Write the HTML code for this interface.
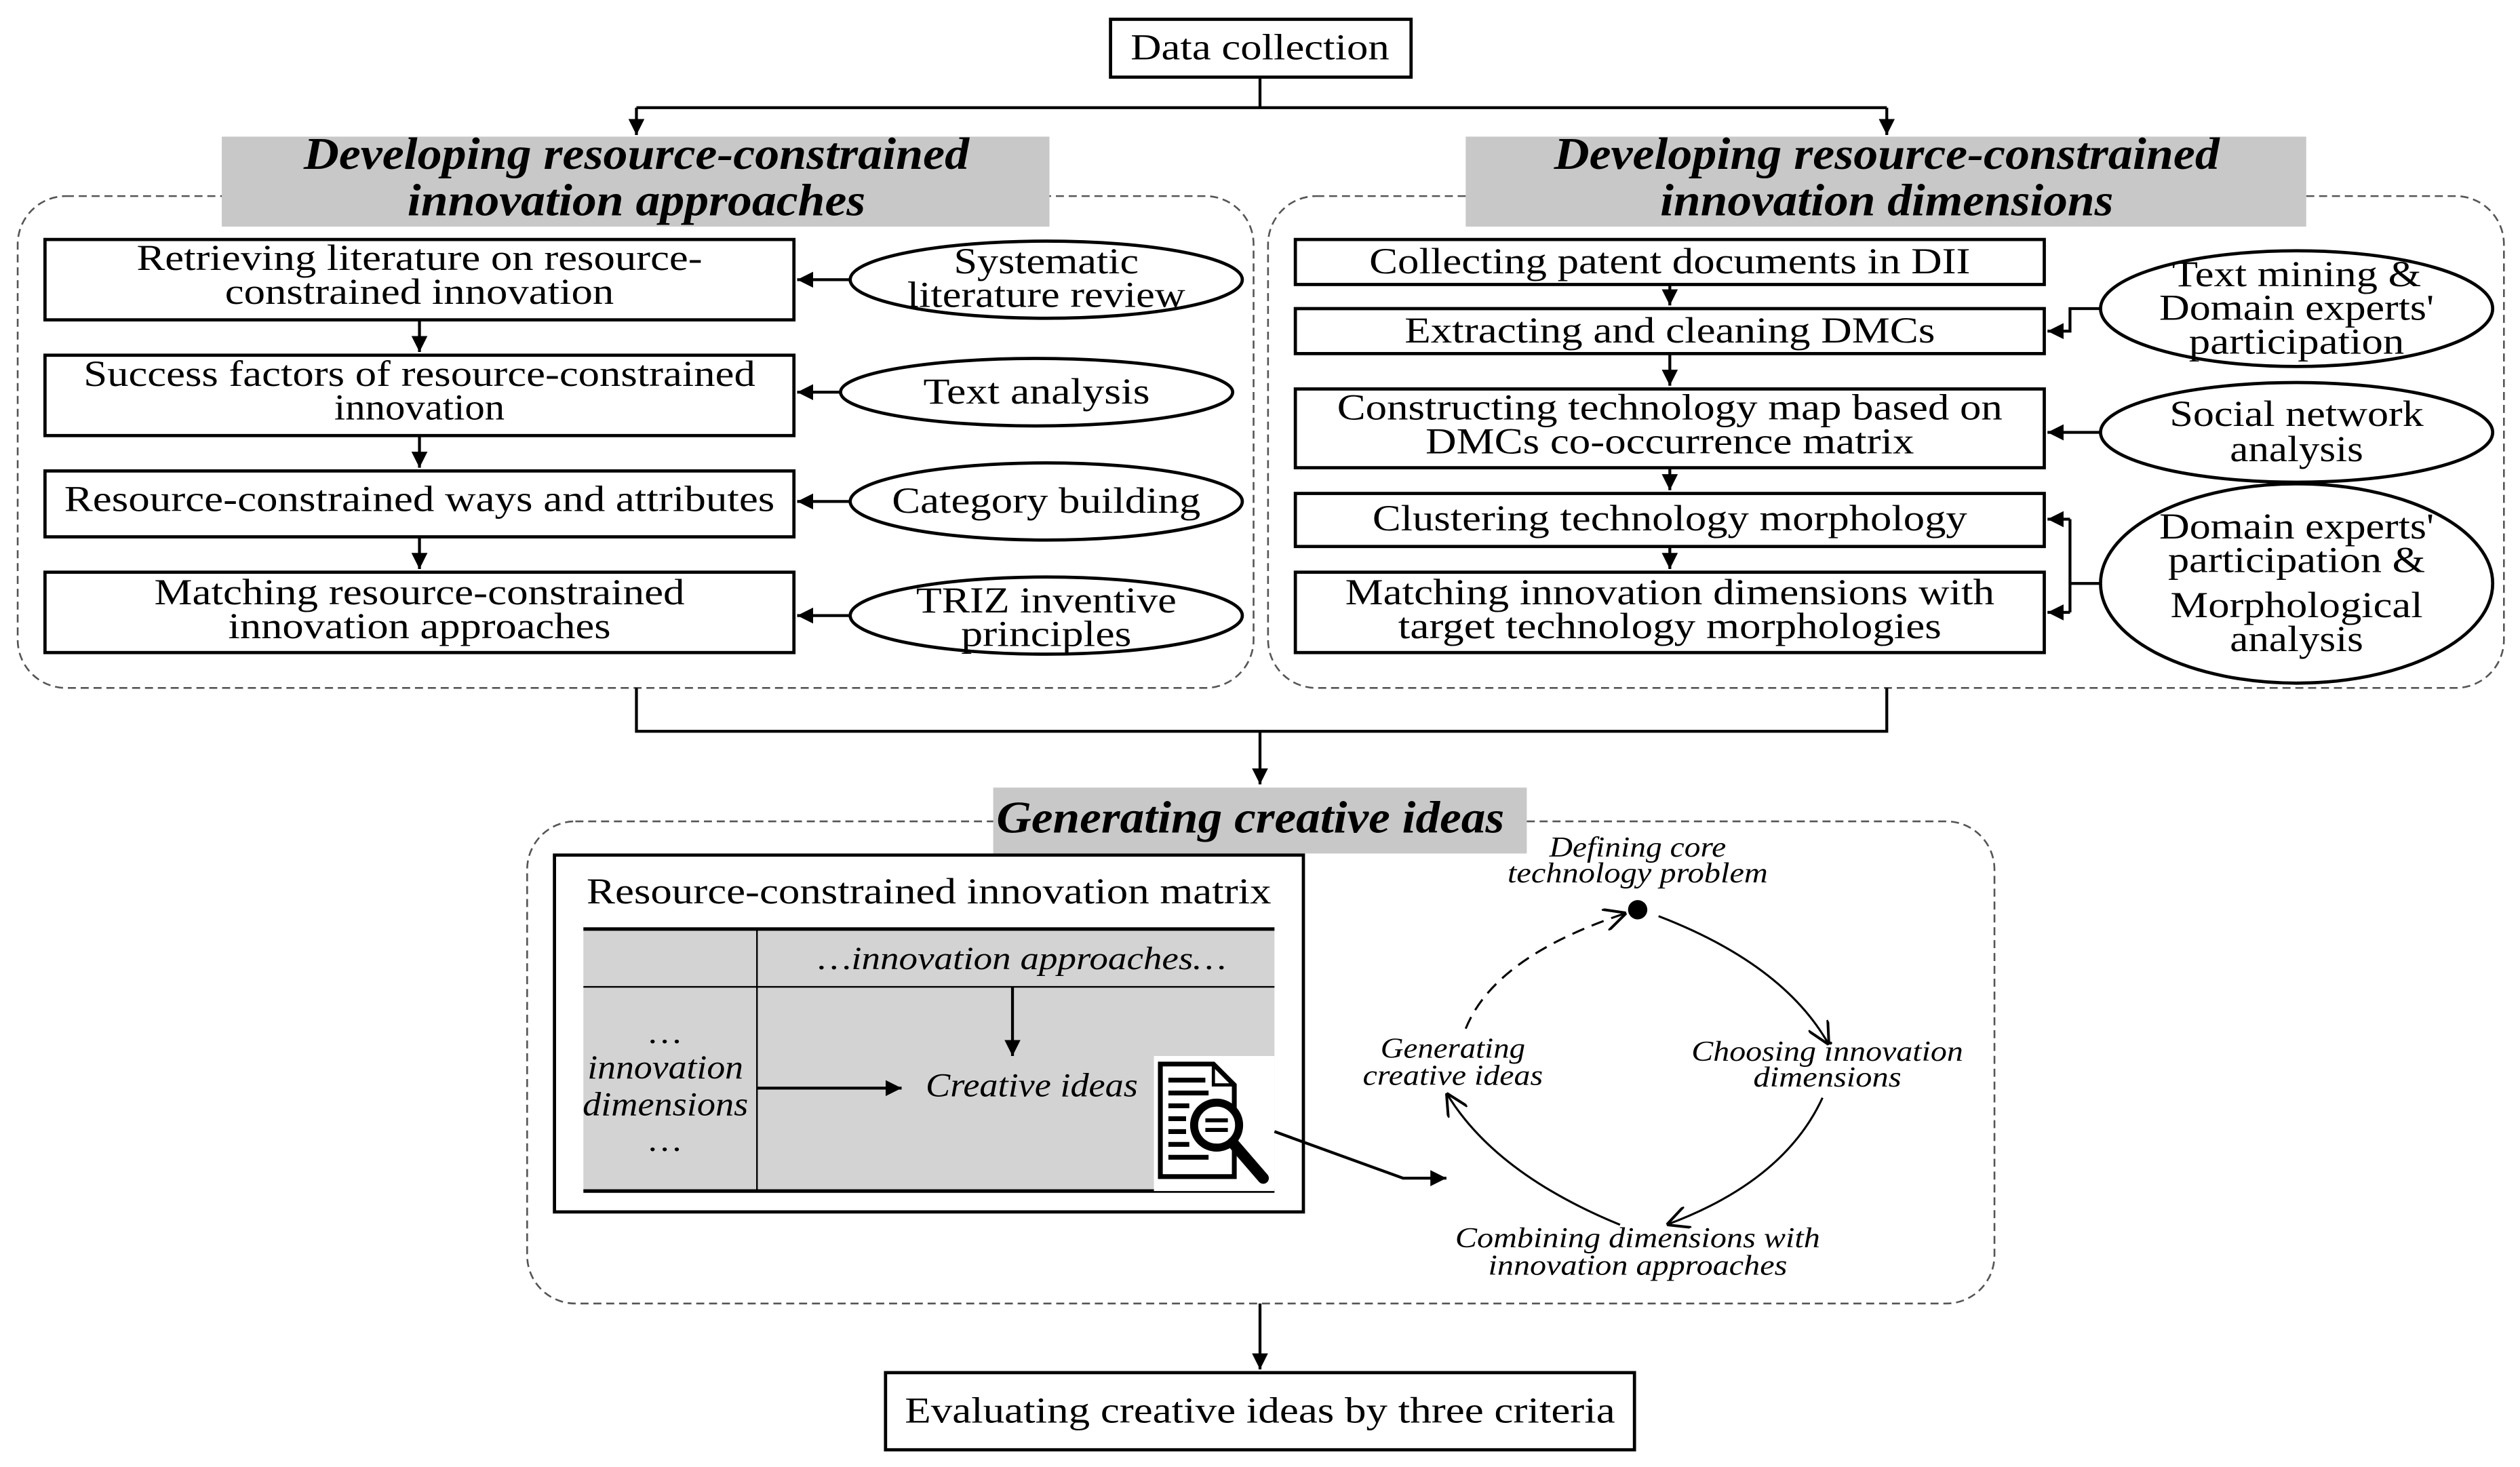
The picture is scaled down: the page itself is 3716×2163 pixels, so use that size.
<!DOCTYPE html>
<html><head><meta charset="utf-8"><style>
html,body{margin:0;padding:0;background:#fff;}
svg{display:block;}
text{font-family:"Liberation Serif",serif;fill:#000;}
.t{font-size:23px;text-anchor:middle;}
.h{font-size:28px;font-weight:bold;font-style:italic;text-anchor:middle;}
.i{font-size:18px;font-style:italic;text-anchor:middle;}
.b{fill:#fff;stroke:#000;stroke-width:2;}
.l{fill:none;stroke:#000;stroke-width:1.8;}
.d{fill:none;stroke:#555;stroke-width:1.1;stroke-dasharray:5,3;}
</style></head><body>
<svg width="3716" height="2163" viewBox="0 0 1568 912.7" xmlns="http://www.w3.org/2000/svg">
<defs>
<marker id="a" viewBox="0 0 10 10" refX="10" refY="5" markerWidth="10" markerHeight="11" orient="auto" markerUnits="userSpaceOnUse"><path d="M0,0L10,5L0,10z" fill="#000"/></marker>
<marker id="o" viewBox="0 0 10 10" refX="10" refY="5" markerWidth="14" markerHeight="14" orient="auto" markerUnits="userSpaceOnUse"><path d="M0,0L10,5L0,10" fill="none" stroke="#000" stroke-width="1.2"/></marker>
</defs>
<!-- top -->
<rect class="b" x="691" y="12" width="187" height="36"/>
<text class="t" x="784" y="37" textLength="161" lengthAdjust="spacingAndGlyphs">Data collection</text>
<path class="l" d="M784,48V67M396,67H1174"/>
<path class="l" d="M396,67V84" marker-end="url(#a)"/>
<path class="l" d="M1174,67V84" marker-end="url(#a)"/>
<!-- containers -->
<rect class="d" x="11" y="122" width="769" height="306" rx="30"/>
<rect class="d" x="789" y="122" width="769" height="306" rx="30"/>
<rect x="138" y="85" width="515" height="56" fill="#c8c8c8"/>
<rect x="912" y="85" width="523" height="56" fill="#c8c8c8"/>
<text class="h" x="396" y="105" textLength="414" lengthAdjust="spacingAndGlyphs">Developing resource-constrained</text>
<text class="h" x="396" y="134" textLength="285" lengthAdjust="spacingAndGlyphs">innovation approaches</text>
<text class="h" x="1174" y="105" textLength="414" lengthAdjust="spacingAndGlyphs">Developing resource-constrained</text>
<text class="h" x="1174" y="134" textLength="282" lengthAdjust="spacingAndGlyphs">innovation dimensions</text>
<!-- left boxes -->
<rect class="b" x="28" y="149" width="466" height="50"/>
<text class="t" x="261" y="168" textLength="352" lengthAdjust="spacingAndGlyphs">Retrieving literature on resource-</text>
<text class="t" x="261" y="189" textLength="242" lengthAdjust="spacingAndGlyphs">constrained innovation</text>
<rect class="b" x="28" y="221" width="466" height="50"/>
<text class="t" x="261" y="240" textLength="418" lengthAdjust="spacingAndGlyphs">Success factors of resource-constrained</text>
<text class="t" x="261" y="261" textLength="106" lengthAdjust="spacingAndGlyphs">innovation</text>
<rect class="b" x="28" y="293" width="466" height="41"/>
<text class="t" x="261" y="318" textLength="442" lengthAdjust="spacingAndGlyphs">Resource-constrained ways and attributes</text>
<rect class="b" x="28" y="356" width="466" height="50"/>
<text class="t" x="261" y="376" textLength="330" lengthAdjust="spacingAndGlyphs">Matching resource-constrained</text>
<text class="t" x="261" y="397" textLength="238" lengthAdjust="spacingAndGlyphs">innovation approaches</text>
<path class="l" d="M261,199V219" marker-end="url(#a)"/>
<path class="l" d="M261,271V291" marker-end="url(#a)"/>
<path class="l" d="M261,334V354" marker-end="url(#a)"/>
<!-- left ellipses -->
<ellipse class="b" cx="651" cy="174" rx="122" ry="24"/>
<text class="t" x="651" y="170" textLength="115" lengthAdjust="spacingAndGlyphs">Systematic</text>
<text class="t" x="651" y="191" textLength="173" lengthAdjust="spacingAndGlyphs">literature review</text>
<ellipse class="b" cx="645" cy="244" rx="122" ry="21"/>
<text class="t" x="645" y="251" textLength="141" lengthAdjust="spacingAndGlyphs">Text analysis</text>
<ellipse class="b" cx="651" cy="312" rx="122" ry="24"/>
<text class="t" x="651" y="319" textLength="192" lengthAdjust="spacingAndGlyphs">Category building</text>
<ellipse class="b" cx="651" cy="383" rx="122" ry="24"/>
<text class="t" x="651" y="381" textLength="162" lengthAdjust="spacingAndGlyphs">TRIZ inventive</text>
<text class="t" x="651" y="402" textLength="106" lengthAdjust="spacingAndGlyphs">principles</text>
<path class="l" d="M529,174H496" marker-end="url(#a)"/>
<path class="l" d="M523,244H496" marker-end="url(#a)"/>
<path class="l" d="M529,312H496" marker-end="url(#a)"/>
<path class="l" d="M529,383H496" marker-end="url(#a)"/>
<!-- right boxes -->
<rect class="b" x="806" y="149" width="466" height="28"/>
<text class="t" x="1039" y="170" textLength="374" lengthAdjust="spacingAndGlyphs">Collecting patent documents in DII</text>
<rect class="b" x="806" y="192" width="466" height="28"/>
<text class="t" x="1039" y="213" textLength="330" lengthAdjust="spacingAndGlyphs">Extracting and cleaning DMCs</text>
<rect class="b" x="806" y="242" width="466" height="49"/>
<text class="t" x="1039" y="261" textLength="414" lengthAdjust="spacingAndGlyphs">Constructing technology map based on</text>
<text class="t" x="1039" y="282" textLength="304" lengthAdjust="spacingAndGlyphs">DMCs co-occurrence matrix</text>
<rect class="b" x="806" y="307" width="466" height="33"/>
<text class="t" x="1039" y="330" textLength="370" lengthAdjust="spacingAndGlyphs">Clustering technology morphology</text>
<rect class="b" x="806" y="356" width="466" height="50"/>
<text class="t" x="1039" y="376" textLength="404" lengthAdjust="spacingAndGlyphs">Matching innovation dimensions with</text>
<text class="t" x="1039" y="397" textLength="338" lengthAdjust="spacingAndGlyphs">target technology morphologies</text>
<path class="l" d="M1039,177V190" marker-end="url(#a)"/>
<path class="l" d="M1039,220V240" marker-end="url(#a)"/>
<path class="l" d="M1039,291V305" marker-end="url(#a)"/>
<path class="l" d="M1039,340V354" marker-end="url(#a)"/>
<!-- right ellipses -->
<ellipse class="b" cx="1429" cy="192" rx="122" ry="36"/>
<text class="t" x="1429" y="178" textLength="155" lengthAdjust="spacingAndGlyphs">Text mining &amp;</text>
<text class="t" x="1429" y="199" textLength="171" lengthAdjust="spacingAndGlyphs">Domain experts'</text>
<text class="t" x="1429" y="220" textLength="134" lengthAdjust="spacingAndGlyphs">participation</text>
<ellipse class="b" cx="1429" cy="269" rx="122" ry="31"/>
<text class="t" x="1429" y="265" textLength="158" lengthAdjust="spacingAndGlyphs">Social network</text>
<text class="t" x="1429" y="287" textLength="83" lengthAdjust="spacingAndGlyphs">analysis</text>
<ellipse class="b" cx="1429" cy="363" rx="122" ry="62"/>
<text class="t" x="1429" y="335" textLength="171" lengthAdjust="spacingAndGlyphs">Domain experts'</text>
<text class="t" x="1429" y="356" textLength="160" lengthAdjust="spacingAndGlyphs">participation &amp;</text>
<text class="t" x="1429" y="384" textLength="157" lengthAdjust="spacingAndGlyphs">Morphological</text>
<text class="t" x="1429" y="405" textLength="83" lengthAdjust="spacingAndGlyphs">analysis</text>
<path class="l" d="M1307,192H1288V206H1274" marker-end="url(#a)"/>
<path class="l" d="M1307,269H1274" marker-end="url(#a)"/>
<path class="l" d="M1307,363H1288M1288,323V381"/>
<path class="l" d="M1288,323H1274" marker-end="url(#a)"/>
<path class="l" d="M1288,381H1274" marker-end="url(#a)"/>
<!-- merge -->
<path class="l" d="M396,428V455H1174V428"/>
<path class="l" d="M784,455V488" marker-end="url(#a)"/>
<!-- generating -->
<rect class="d" x="328" y="511" width="913" height="300" rx="30"/>
<rect x="618" y="490" width="332" height="41" fill="#c8c8c8"/>
<text class="h" x="778" y="518" textLength="316" lengthAdjust="spacingAndGlyphs">Generating creative ideas</text>
<rect class="b" x="345" y="532" width="466" height="222"/>
<text class="t" x="578" y="562" textLength="426" lengthAdjust="spacingAndGlyphs">Resource-constrained innovation matrix</text>
<rect x="363" y="578" width="430" height="163" fill="#d3d3d3"/>
<path d="M363,578H793M363,741H793" stroke="#000" stroke-width="2.2"/>
<path d="M363,614H793M471,578V741" stroke="#000" stroke-width="1"/>
<text class="i" x="636" y="603" style="font-size:20px" textLength="254" lengthAdjust="spacingAndGlyphs">…innovation approaches…</text>
<text class="i" x="414" y="649" style="font-size:20px" textLength="20" lengthAdjust="spacingAndGlyphs">…</text>
<text class="i" x="414" y="671" style="font-size:21px" textLength="97" lengthAdjust="spacingAndGlyphs">innovation</text>
<text class="i" x="414" y="694" style="font-size:21px" textLength="103" lengthAdjust="spacingAndGlyphs">dimensions</text>
<text class="i" x="414" y="716" style="font-size:20px" textLength="20" lengthAdjust="spacingAndGlyphs">…</text>
<path class="l" d="M471,677H561" marker-end="url(#a)"/>
<path class="l" d="M630,614V657" marker-end="url(#a)"/>
<text class="i" x="642" y="682" style="font-size:21px" textLength="132" lengthAdjust="spacingAndGlyphs">Creative ideas</text>
<!-- icon -->
<rect x="718" y="657" width="75" height="84" fill="#fff"/>
<path d="M722,662H755L768,675V732H722Z" fill="#fff" stroke="#000" stroke-width="3"/>
<path d="M755,662V675H768" fill="none" stroke="#000" stroke-width="2"/>
<path d="M727,672H750M727,680H752M727,688H740M727,696H738M727,704H738M727,712H740M727,720H752" stroke="#000" stroke-width="3"/>
<circle cx="757" cy="700" r="14" fill="#fff" stroke="#000" stroke-width="5"/>
<path d="M750,697H764M750,703H764" stroke="#000" stroke-width="2.5"/>
<path d="M767,711L786,733" stroke="#000" stroke-width="7" stroke-linecap="round"/>
<path class="l" d="M793,704L873,733H900" marker-end="url(#a)"/>
<!-- cycle -->
<circle cx="1019" cy="566" r="6" fill="#000"/>
<text class="i" x="1019" y="533" textLength="110" lengthAdjust="spacingAndGlyphs">Defining core</text>
<text class="i" x="1019" y="549" textLength="162" lengthAdjust="spacingAndGlyphs">technology problem</text>
<path class="l" style="stroke-width:1.3" d="M1032,570Q1110,600 1138,650" marker-end="url(#o)"/>
<text class="i" x="1137" y="660" textLength="169" lengthAdjust="spacingAndGlyphs">Choosing innovation</text>
<text class="i" x="1137" y="676" textLength="92" lengthAdjust="spacingAndGlyphs">dimensions</text>
<path class="l" style="stroke-width:1.3" d="M1134,683Q1110,735 1037,762" marker-end="url(#o)"/>
<text class="i" x="1019" y="776" textLength="227" lengthAdjust="spacingAndGlyphs">Combining dimensions with</text>
<text class="i" x="1019" y="793" textLength="186" lengthAdjust="spacingAndGlyphs">innovation approaches</text>
<path class="l" style="stroke-width:1.3" d="M1008,762Q930,730 900,680" marker-end="url(#o)"/>
<text class="i" x="904" y="658" textLength="90" lengthAdjust="spacingAndGlyphs">Generating</text>
<text class="i" x="904" y="675" textLength="112" lengthAdjust="spacingAndGlyphs">creative ideas</text>
<path class="l" style="stroke-width:1.3;stroke-dasharray:8,5" d="M912,640Q930,595 1012,568" marker-end="url(#o)"/>
<!-- final -->
<path class="l" d="M784,811V852" marker-end="url(#a)"/>
<rect class="b" x="551" y="854" width="466" height="48"/>
<text class="t" x="784" y="885" textLength="442" lengthAdjust="spacingAndGlyphs">Evaluating creative ideas by three criteria</text>
</svg>
</body></html>
